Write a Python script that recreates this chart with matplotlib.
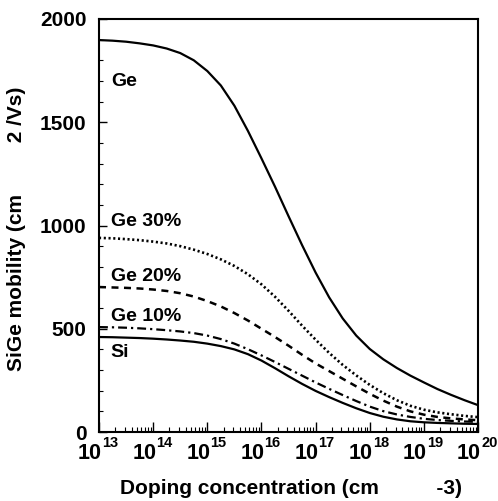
import numpy as np
import matplotlib
matplotlib.use('Agg')
import matplotlib.pyplot as plt
from matplotlib.ticker import FixedLocator, NullFormatter, MultipleLocator

plt.rcParams['font.family'] = 'Liberation Sans'
plt.rcParams['font.weight'] = 'bold'

# doping as log10(cm^-3), quarter-decade steps; mobility in cm^2/Vs
log_doping = [13, 13.25, 13.5, 13.75, 14, 14.25, 14.5, 14.75, 15, 15.25,
              15.5, 15.75, 16, 16.25, 16.5, 16.75, 17, 17.25, 17.5, 17.75,
              18, 18.25, 18.5, 18.75, 19, 19.25, 19.5, 19.75, 20]
mu_ge   = [1898, 1895, 1890, 1882, 1872, 1857, 1835, 1800, 1748, 1678,
           1580, 1458, 1325, 1188, 1045, 905, 772, 652, 550, 467,
           402, 352, 310, 273, 240, 208, 180, 154, 130]
mu_ge30 = [940, 938, 934, 929, 922, 913, 900, 883, 862, 836,
           804, 764, 715, 655, 587, 515, 447, 383, 325, 274,
           228, 188, 154, 127, 108, 95, 86, 78, 72]
mu_ge20 = [702, 700, 698, 695, 690, 683, 672, 656, 634, 608,
           576, 540, 500, 460, 418, 374, 332, 295, 258, 221,
           185, 152, 123, 100, 84, 73, 66, 61, 57]
mu_ge10 = [508, 507, 505, 502, 498, 493, 487, 479, 467, 450,
           428, 401, 371, 339, 306, 273, 240, 209, 179, 150,
           123, 101, 85, 73, 64, 58, 54, 51, 49]
mu_si   = [460, 459, 457, 455, 452, 448, 443, 437, 428, 416,
           400, 377, 346, 309, 270, 233, 199, 169, 141, 115,
           92, 74, 61, 52, 47, 44, 42, 40, 39]

labels = ['Ge', 'Ge 30%', 'Ge 20%', 'Ge 10%', 'Si']
label_y = [1695, 1017, 755, 557, 387]

tick_exponents = [13, 14, 15, 16, 17, 18, 19, 20]

N = 10.0 ** np.array(log_doping)

fig = plt.figure(figsize=(4.98, 5.01), dpi=100)
ax = fig.add_axes([0.1988, 0.1377, 0.7612, 0.8244])

ax.plot(N, mu_ge, color='black', lw=1.6, ls='-')
ax.plot(N, mu_ge30, color='black', lw=1.9, ls=(0, (0.8, 1.0)))
ax.plot(N, mu_ge20, color='black', lw=1.8, ls=(0, (2.8, 2.2)))
ax.plot(N, mu_ge10, color='black', lw=1.6, ls=(0, (4, 1.8, 1, 1.8)))
ax.plot(N, mu_si, color='black', lw=1.6, ls='-')

for lab, y in zip(labels, label_y):
    ax.text(1.65e13, y, lab, fontsize=14, fontweight='bold', va='center', ha='left')

ax.set_xscale('log')
ax.set_xlim(1e13, 1e20)
ax.set_ylim(0, 2000)

xticks = [10.0 ** e for e in tick_exponents]
ax.xaxis.set_major_locator(FixedLocator(xticks))
ax.xaxis.set_major_formatter(NullFormatter())
ax.xaxis.set_minor_formatter(NullFormatter())
ax.yaxis.set_major_locator(MultipleLocator(500))
ax.yaxis.set_minor_locator(MultipleLocator(100))

ax.tick_params(which='both', direction='in', top=False, right=False)
ax.tick_params(axis='x', which='major', length=7, width=1)
ax.tick_params(axis='x', which='minor', length=3.5, width=0.8)
ax.tick_params(axis='y', which='major', length=6, width=1, pad=9, labelsize=15)
ax.tick_params(axis='y', which='minor', length=3, width=0.8)

# "10" under each decade tick with its exponent raised to the right
for xt, e in zip(xticks, tick_exponents):
    ax.annotate('10', xy=(xt, 0), xycoords=('data', 'axes fraction'),
                xytext=(-9, -11), textcoords='offset pixels',
                ha='center', va='top', fontsize=15.5, fontweight='bold')
    ax.annotate(str(e), xy=(xt, 0), xycoords=('data', 'axes fraction'),
                xytext=(3, -4), textcoords='offset pixels',
                ha='left', va='top', fontsize=10.5, fontweight='bold')

for s in ax.spines.values():
    s.set_linewidth(1.5)

fig.text(291 / 498, 1 - 488 / 501, 'Doping concentration (cm          -3)',
         fontsize=15, fontweight='bold', ha='center', va='center')
fig.text(17 / 498, 1 - 229 / 501, 'SiGe mobility (cm         2 /Vs)',
         fontsize=15, fontweight='bold', ha='center', va='center', rotation=90)

fig.savefig('out.png', dpi=100)
